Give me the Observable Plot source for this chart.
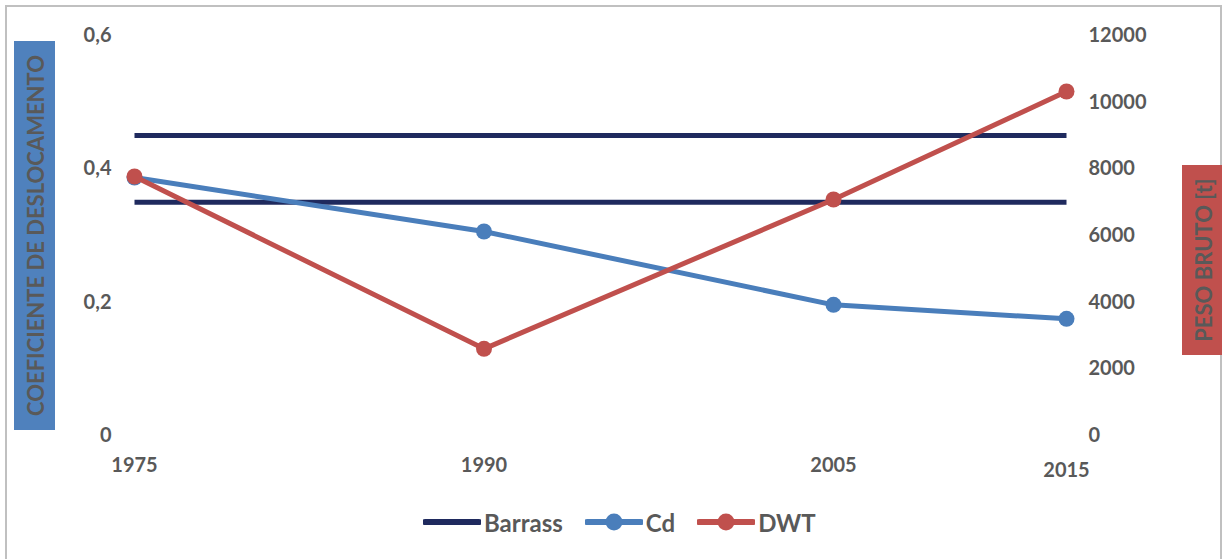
<!DOCTYPE html>
<html>
<head>
<meta charset="utf-8">
<script src="https://cdn.jsdelivr.net/npm/d3@7"></script>
<script src="https://cdn.jsdelivr.net/npm/@observablehq/plot@0.6"></script>
<style>
  body { margin: 0; background: #fff; }
  #chart { position: relative; width: 1224px; height: 559px; overflow: hidden;
           font-family: Lato, "Open Sans", sans-serif; font-weight: bold; color: #595959; }
  #border { position: absolute; left: 5px; top: 5px; width: 1217px; height: 620px;
            border: 2px solid #c0c0c0; box-sizing: border-box; }
  #legend { position: absolute; left: 423px; top: 509px; display: flex; align-items: center;
            font-size: 24px; height: 26px; }
  #legend .item { display: flex; align-items: center; margin-right: 22px; }
  #legend svg { display: block; }
  #legend span { margin-left: 3px; }
</style>
</head>
<body>
<div id="chart"><div id="border"></div><div id="legend"></div></div>
<script>
// Displacement coefficient (Cd) and deadweight tonnage (DWT) by year
const years = [1975, 1990, 2005, 2015];
const cdValues = [0.387, 0.306, 0.196, 0.175];
const dwtValues = [7770, 2600, 7080, 10320];
// Barrass recommended band for Cd
const barrassLimits = [0.45, 0.35];
const cdTicks = [0, 0.2, 0.4, 0.6];
const dwtTicks = [0, 2000, 4000, 6000, 8000, 10000, 12000];
const cdMax = 0.6;
const dwtMax = 12000;
const seriesNames = ["Barrass", "Cd", "DWT"];
const colors = { Barrass: "#1f2a5e", Cd: "#4a7ebb", DWT: "#c0504d" };

// DWT shares the plot's y scale, rescaled onto the Cd range
const toCd = v => v / dwtMax * cdMax;

const cdData = years.map((year, i) => ({ year, value: cdValues[i] }));
const dwtData = years.map((year, i) => ({ year, value: toCd(dwtValues[i]) }));
const barrassData = barrassLimits.flatMap(v => [
  { year: years[0], value: v, id: v },
  { year: years[years.length - 1], value: v, id: v }
]);

const shadow = "drop-shadow(1px 2px 1.5px rgba(0,0,0,0.25))";

const plot = Plot.plot({
  width: 1224,
  height: 559,
  marginLeft: 134,
  marginRight: 158,
  marginTop: 35,
  marginBottom: 124,
  style: { fontFamily: "Lato, 'Open Sans', sans-serif", fontSize: "20px", fontWeight: "bold",
           color: "#595959", background: "transparent", overflow: "visible" },
  x: { domain: [years[0], years[years.length - 1]] },
  y: { domain: [0, cdMax] },
  marks: [
    Plot.axisY(cdTicks, { anchor: "left", tickSize: 0, tickPadding: 23, label: null,
      fontSize: 20, tickFormat: d => String(d).replace(".", ",") }),
    Plot.axisY(dwtTicks.map(toCd), { anchor: "right", tickSize: 0, tickPadding: 22, label: null,
      fontSize: 20, tickFormat: d => String(Math.round(d / cdMax * dwtMax)) }),
    Plot.axisX(years.slice(0, -1), { tickSize: 0, tickPadding: 22, label: null, fontSize: 20,
      tickFormat: d => String(d) }),
    Plot.axisX(years.slice(-1), { tickSize: 0, tickPadding: 27, label: null, fontSize: 20,
      tickFormat: d => String(d) }),
    Plot.line(barrassData, { x: "year", y: "value", z: "id", stroke: colors.Barrass,
      strokeWidth: 5, strokeLinecap: "butt", style: { filter: shadow } }),
    Plot.line(cdData, { x: "year", y: "value", stroke: colors.Cd, strokeWidth: 5,
      strokeLinecap: "round", style: { filter: shadow } }),
    Plot.dot(cdData, { x: "year", y: "value", r: 8, fill: colors.Cd, style: { filter: shadow } }),
    Plot.line(dwtData, { x: "year", y: "value", stroke: colors.DWT, strokeWidth: 5,
      strokeLinecap: "round", style: { filter: shadow } }),
    Plot.dot(dwtData, { x: "year", y: "value", r: 8, fill: colors.DWT, style: { filter: shadow } })
  ]
});
plot.style.position = "absolute";
plot.style.left = "0px";
plot.style.top = "0px";
document.getElementById("chart").appendChild(plot);

// Axis titles in coloured boxes
const svg = d3.select(plot);
function axisTitle(x, y, w, h, fill, label) {
  const g = svg.append("g");
  g.append("rect").attr("x", x).attr("y", y).attr("width", w).attr("height", h).attr("fill", fill);
  g.append("text")
    .attr("transform", `translate(${x + w / 2 + 1},${y + h / 2}) rotate(-90)`)
    .attr("text-anchor", "middle").attr("dominant-baseline", "central")
    .attr("fill", "#595959").attr("font-size", 22).attr("font-weight", "bold")
    .text(label);
}
axisTitle(14, 41, 41, 389, "#4f81bd", "COEFICIENTE DE DESLOCAMENTO");
axisTitle(1182, 165, 40, 190, "#c0504d", "PESO BRUTO [t]");

// Legend
const legend = d3.select("#legend");
seriesNames.forEach(name => {
  const item = legend.append("div").attr("class", "item");
  const s = item.append("svg").attr("width", 58).attr("height", 24);
  s.append("line").attr("x1", 2).attr("x2", 56).attr("y1", 12).attr("y2", 12)
    .attr("stroke", colors[name]).attr("stroke-width", 6).attr("stroke-linecap", "round");
  if (name !== "Barrass") {
    s.append("circle").attr("cx", 29).attr("cy", 12).attr("r", 8.5).attr("fill", colors[name]);
  }
  item.append("span").text(name);
});
</script>
</body>
</html>
